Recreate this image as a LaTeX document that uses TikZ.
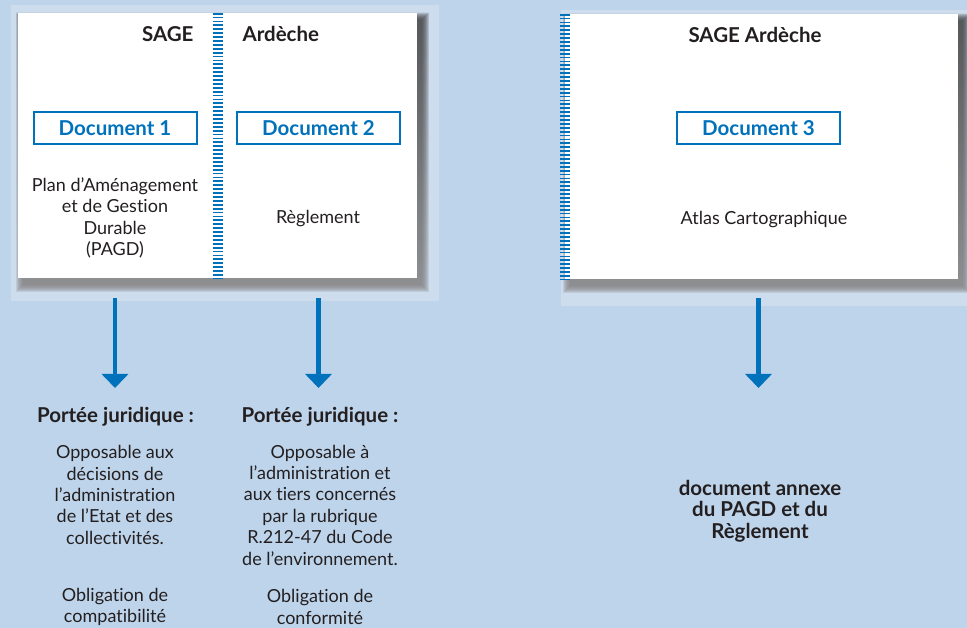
\documentclass[tikz,border=0pt]{standalone}
\usepackage{fontspec}
\setmainfont{Lato}[Ligatures=NoCommon]
\usetikzlibrary{arrows.meta}
\definecolor{sky}{RGB}{190,212,235}
\definecolor{skylight}{RGB}{206,221,238}
\definecolor{docblue}{RGB}{0,114,188}
\definecolor{ink}{RGB}{35,31,32}
\definecolor{shade}{RGB}{55,65,80}
\tikzset{
	card/.style={fill=white, inner sep=0pt},
	docbox/.style={draw=docblue, line width=2pt, minimum width=163pt, minimum height=32pt, inner sep=0pt, text=docblue, font=\fontsize{20.5}{21.3}\selectfont\bfseries},
	body/.style={text=ink, align=center, font=\fontsize{18}{21.4}\selectfont},
	head/.style={body, font=\fontsize{20.5}{21.3}\selectfont\bfseries},
	rail/.style={draw=docblue, line width=10pt, dash pattern=on 1.8pt off 2.1pt},
	pil/.style={draw=docblue, line width=4.5pt, -{Triangle[width=26pt,length=14pt]}},
}

\begin{document}
\begin{tikzpicture}[x=1pt, y=-1pt]
		%%%%% START %%%%%
		
		\fill[sky] (0,0) rectangle (967,628);
		\useasboundingbox (0,0) rectangle (967,628);
		
		\fill[skylight] (11,5) rectangle (439,301);
		\fill[skylight] (561,10) rectangle (967,306);
		
		% shadows
		\foreach \s in {0,...,7} {
			\fill[shade, opacity=0.11] (23-\s, 20-\s) rectangle (422+\s, 285+\s);
			\fill[shade, opacity=0.11] (570-\s, 21-\s) rectangle (963+\s, 286+\s);
		}
		
		\node[card, minimum width=399pt, minimum height=265pt] (cardL) at (217.5,145.5) {};
		\node[card, minimum width=393pt, minimum height=265pt] (cardR) at (761.5,146.5) {};
		
		\draw[rail] (cardL.north) -- (cardL.south);
		\draw[rail] (cardR.north west) -- (cardR.south west);
		
		\node[head, anchor=base east] (sage) at (197,42) {SAGE};
		\node[head, anchor=base west] (ardeche) at (239,42) {Ardèche};
		\node[head, anchor=base] (sage3) at (755,43) {SAGE Ardèche};
		
		\node[docbox] (doc1) at (115,128.5) {Document 1};
		\node[docbox] (doc2) at (318.5,128.5) {Document 2};
		\node[docbox] (doc3) at (758.5,128.5) {Document 3};
		
		\node[body] (pagd) at (115,218) {Plan d’Aménagement\\et de Gestion\\Durable\\(PAGD)};
		\node[body] (regl) at (318,219) {Règlement};
		\node[body] (atlas) at (764,220) {Atlas Cartographique};
		
		\coordinate (tips) at (0,388);
		\draw[pil, shorten <=20pt] (doc1 |- cardL.south) -- (doc1 |- tips);
		\draw[pil, shorten <=20pt] (doc2 |- cardL.south) -- (doc2 |- tips);
		\draw[pil, shorten <=19pt] (doc3 |- cardR.south) -- (doc3 |- tips);
		
		\node[head] (port1) at (115.5,417) {Portée juridique :};
		\node[head] (port2) at (320,417) {Portée juridique :};
		
		\node[body] (opp1) at (115,495) {Opposable aux\\décisions de\\l’administration\\de l’Etat et des\\collectivités.};
		\node[body] (opp2) at (320,505) {Opposable à\\l’administration et\\aux tiers concernés\\par la rubrique\\R.212-47 du Code\\de l’environnement.};
		
		\node[body] (obl1) at (115,607) {Obligation de\\compatibilité};
		\node[body] (obl2) at (320,607) {Obligation de\\conformité};
		
		\node[head] (annexe) at (760,511) {document annexe\\du PAGD et du\\Règlement};
		
		%%%%% END %%%%%
\end{tikzpicture}
\end{document}
